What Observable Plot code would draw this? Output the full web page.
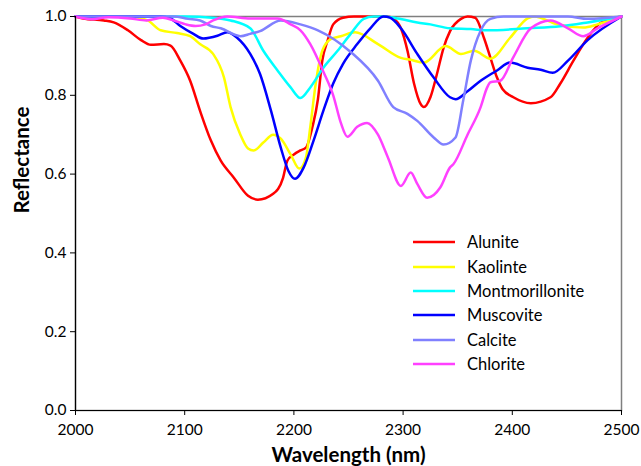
<!DOCTYPE html>
<html><head><meta charset="utf-8">
<script src="https://cdn.jsdelivr.net/npm/d3@7"></script>
<script src="https://cdn.jsdelivr.net/npm/@observablehq/plot@0.6"></script>
<style>
body{margin:0;background:#fff;}
#chart{position:relative;width:641px;height:466px;font-family:Lato,sans-serif;}
#legend{position:absolute;left:413px;top:230px;font-size:16.5px;color:#000;}
.item{display:flex;align-items:center;height:24.4px;}
.item svg{margin-right:12px;display:block}
</style></head><body><div id="chart"></div>
<script>
const seriesNames = ["Alunite","Kaolinte","Montmorillonite","Muscovite","Calcite","Chlorite"];
const seriesColors = ["#ff0000","#ffff00","#00ffff","#0000ff","#8080ff","#ff40ff"];
const xTicks = [2000,2100,2200,2300,2400,2500];
const yTicks = [0,0.2,0.4,0.6,0.8,1.0];

// [wavelength nm, reflectance]
const alunite = [[2000,1.0],[2007,0.995],[2026,0.99],[2035,0.985],[2048,0.965],[2060,0.94],[2069,0.928],[2081,0.93],[2087,0.926],[2096,0.888],[2105,0.837],[2114,0.761],[2124,0.685],[2133,0.634],[2145,0.591],[2158,0.545],[2167,0.535],[2181,0.55],[2190,0.59],[2194,0.634],[2200,0.65],[2206,0.66],[2211,0.667],[2217,0.72],[2222,0.79],[2226,0.888],[2231,0.94],[2236,0.98],[2245,0.997],[2255,1.0],[2285,1.0],[2291,0.995],[2298,0.97],[2304,0.913],[2310,0.83],[2316,0.778],[2319,0.77],[2325,0.795],[2331,0.854],[2337,0.92],[2343,0.963],[2353,0.994],[2359,1.0],[2366,0.997],[2374,0.946],[2380,0.895],[2386,0.845],[2391,0.816],[2401,0.795],[2417,0.78],[2435,0.795],[2444,0.83],[2456,0.888],[2469,0.946],[2481,0.984],[2500,1.0]];
const kaolinite = [[2000,1.0],[2048,1.0],[2066,0.99],[2078,0.965],[2093,0.958],[2105,0.95],[2114,0.93],[2126,0.905],[2136,0.845],[2142,0.77],[2151,0.70],[2158,0.665],[2163,0.66],[2172,0.68],[2181,0.70],[2188,0.69],[2197,0.65],[2205,0.614],[2211,0.642],[2215,0.72],[2220,0.83],[2226,0.913],[2234,0.943],[2243,0.95],[2256,0.96],[2277,0.93],[2298,0.895],[2307,0.89],[2319,0.883],[2339,0.925],[2353,0.905],[2365,0.913],[2380,0.893],[2398,0.946],[2414,0.995],[2420,1.0],[2441,0.98],[2465,0.972],[2478,0.98],[2500,1.0]];
const montmorillonite = [[2000,1.0],[2100,1.0],[2125,0.997],[2142,0.99],[2160,0.97],[2172,0.913],[2185,0.863],[2197,0.82],[2206,0.793],[2215,0.82],[2227,0.87],[2240,0.913],[2252,0.956],[2264,0.994],[2273,1.0],[2282,1.0],[2295,0.995],[2313,0.985],[2325,0.98],[2343,0.97],[2362,0.968],[2377,0.965],[2414,0.97],[2444,0.975],[2469,0.985],[2500,1.0]];
const muscovite = [[2000,1.0],[2078,1.0],[2087,0.995],[2096,0.976],[2108,0.956],[2117,0.944],[2130,0.951],[2139,0.96],[2148,0.946],[2160,0.905],[2169,0.854],[2179,0.761],[2188,0.667],[2195,0.608],[2201,0.588],[2209,0.617],[2218,0.685],[2227,0.761],[2236,0.83],[2245,0.88],[2258,0.93],[2270,0.97],[2282,1.0],[2288,0.997],[2298,0.97],[2313,0.905],[2328,0.845],[2343,0.795],[2348,0.79],[2359,0.81],[2371,0.837],[2386,0.863],[2398,0.883],[2414,0.87],[2426,0.865],[2437,0.857],[2451,0.888],[2469,0.94],[2500,1.0]];
const calcite = [[2000,1.0],[2090,1.0],[2103,0.994],[2114,0.99],[2124,0.976],[2133,0.97],[2151,0.95],[2160,0.956],[2169,0.963],[2188,0.99],[2206,0.98],[2222,0.965],[2252,0.91],[2277,0.837],[2291,0.77],[2304,0.753],[2313,0.735],[2328,0.693],[2337,0.675],[2348,0.693],[2355,0.786],[2362,0.888],[2371,0.964],[2380,0.994],[2392,1.0],[2451,1.0],[2469,0.994],[2500,1.0]];
const chlorite = [[2000,1.0],[2015,0.993],[2030,0.998],[2050,0.995],[2065,0.99],[2080,0.997],[2090,0.99],[2101,0.98],[2110,0.976],[2119,0.98],[2126,0.99],[2139,1.0],[2160,0.995],[2185,0.995],[2197,0.98],[2206,0.965],[2215,0.93],[2227,0.86],[2236,0.80],[2243,0.73],[2249,0.695],[2258,0.72],[2267,0.73],[2277,0.70],[2286,0.643],[2298,0.57],[2307,0.604],[2313,0.575],[2322,0.54],[2334,0.566],[2343,0.617],[2346,0.625],[2359,0.70],[2371,0.77],[2377,0.82],[2380,0.833],[2389,0.837],[2401,0.897],[2417,0.97],[2435,0.99],[2451,0.97],[2465,0.95],[2478,0.97],[2500,1.0]];

const seriesData = [alunite,kaolinite,montmorillonite,muscovite,calcite,chlorite];
const rows = seriesData.flatMap((arr,i)=>arr.map(([nm,r])=>({series:seriesNames[i],nm,r})));

const chart = Plot.plot({
  width:641, height:466,
  marginLeft:75, marginRight:20, marginTop:16, marginBottom:56,
  style:{fontFamily:"Lato, sans-serif", fontSize:"15px", color:"#000", background:"#fff"},
  x:{domain:[2000,2500]},
  y:{domain:[0,1]},
  color:{domain:seriesNames, range:seriesColors},
  marks:[
    Plot.frame({stroke:"#7f7f7f", strokeWidth:1.5}),
    ...seriesNames.map((name,i)=>Plot.line(rows.filter(d=>d.series===name),{x:"nm",y:"r",stroke:seriesColors[i],strokeWidth:2.5,curve:"monotone-x"})),
    Plot.axisX({ticks:xTicks, tickFormat:d=>String(d), tickSize:5, tickPadding:8, fontSize:15.5, label:null, stroke:"#000"}),
    Plot.axisY({ticks:yTicks, tickFormat:d3.format(".1f"), tickSize:5, tickPadding:4, fontSize:15.5, label:null}),
    Plot.ruleX([2000],{stroke:"#000",strokeWidth:1.2}),
    Plot.ruleY([0],{stroke:"#000",strokeWidth:1.2}),
    Plot.text(["Wavelength (nm)"],{frameAnchor:"bottom", dy:45, lineAnchor:"middle", fontWeight:"bold", fontSize:20.5}),
    Plot.text(["Reflectance"],{frameAnchor:"left", dx:-53, rotate:-90, lineAnchor:"middle", fontWeight:"bold", fontSize:20.5})
  ]
});
const container = document.getElementById("chart");
container.appendChild(chart);

const legend = document.createElement("div");
legend.id = "legend";
seriesNames.forEach((name,i)=>{
  const item = document.createElement("div");
  item.className = "item";
  item.innerHTML = `<svg width="42" height="6"><line x1="0" x2="42" y1="3" y2="3" stroke="${seriesColors[i]}" stroke-width="2.5"/></svg><span>${name}</span>`;
  legend.appendChild(item);
});
container.appendChild(legend);
</script>
</body></html>
